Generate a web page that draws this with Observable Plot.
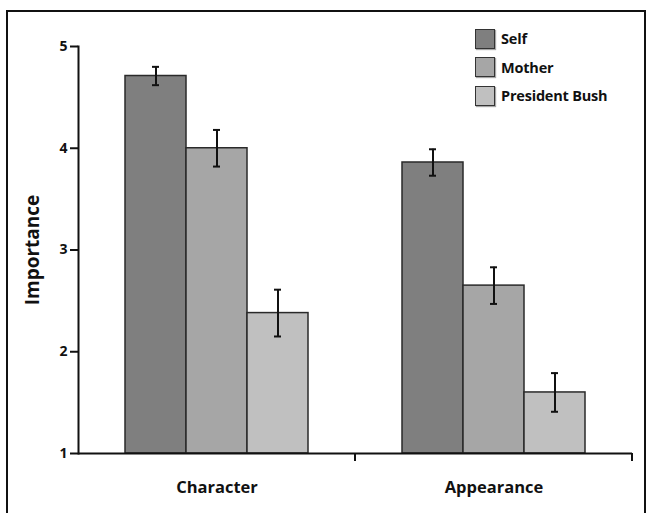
<!DOCTYPE html>
<html>
<head>
<meta charset="utf-8">
<script src="https://cdn.jsdelivr.net/npm/d3@7"></script>
<script src="https://cdn.jsdelivr.net/npm/@observablehq/plot@0.6"></script>
<style>
  html, body { margin: 0; padding: 0; background: #fff; }
  #wrap { position: relative; width: 648px; height: 513px; overflow: hidden; background: #fff; font-family: "Open Sans", sans-serif; }
  #chart { position: absolute; left: 0; top: 0; }
  #frame { position: absolute; left: 6px; top: 10px; width: 636px; height: 560px; border: 2.5px solid #111; pointer-events: none; }
  #legend { position: absolute; left: 475px; top: 28px; }
  .item { display: flex; align-items: center; height: 21px; margin-bottom: 7.5px; }
  .sw { width: 18px; height: 18px; border: 1.5px solid #333; box-shadow: 1px 1px 1px rgba(0,0,0,0.35); margin-right: 6px; }
  .lab { font-weight: bold; font-size: 14.5px; color: #111; letter-spacing: -0.2px; }
  svg [aria-label="y-axis label"] { font-size: 19px; }
</style>
</head>
<body>
<div id="wrap">
  <div id="chart"></div>
  <div id="legend"></div>
  <div id="frame"></div>
</div>
<script>
const categories = ["Character", "Appearance"];
const series = ["Self", "Mother", "President Bush"];
const characterMeans = [4.71, 4.00, 2.38];
const characterErrors = [0.09, 0.18, 0.23];
const appearanceMeans = [3.86, 2.65, 1.60];
const appearanceErrors = [0.13, 0.18, 0.19];
const yTicks = [1, 2, 3, 4, 5];
const yMin = 1, yMax = 5;
const colors = ["#7f7f7f", "#a6a6a6", "#c0c0c0"];

const meansBy = {Character: characterMeans, Appearance: appearanceMeans};
const errorsBy = {Character: characterErrors, Appearance: appearanceErrors};
const data = categories.flatMap(c => series.map((s, i) => ({
  category: c, series: s, value: meansBy[c][i],
  lo: meansBy[c][i] - errorsBy[c][i], hi: meansBy[c][i] + errorsBy[c][i]
})));

const plot = Plot.plot({
  width: 648,
  height: 513,
  marginLeft: 77,
  marginRight: 16,
  marginTop: 46,
  marginBottom: 60,
  style: {fontFamily: "'Open Sans', sans-serif", background: "transparent", color: "#111"},
  fx: {domain: categories, padding: 0, label: null},
  x: {domain: series, paddingInner: 0, paddingOuter: 0.745, axis: null},
  y: {domain: [yMin, yMax], axis: null},
  color: {domain: series, range: colors},
  marks: [
    Plot.barY(data, {fx: "category", x: "series", y1: () => yMin, y2: "value", fill: "series", stroke: "#2a2a2a", strokeWidth: 1.5}),
    Plot.ruleX(data, {fx: "category", x: "series", y1: "lo", y2: "hi", stroke: "#111", strokeWidth: 2}),
    Plot.tickY(data, {fx: "category", x: "series", y: "lo", stroke: "#111", strokeWidth: 2, insetLeft: 27, insetRight: 27}),
    Plot.tickY(data, {fx: "category", x: "series", y: "hi", stroke: "#111", strokeWidth: 2, insetLeft: 27, insetRight: 27}),
    Plot.ruleY([yMin], {stroke: "#111", strokeWidth: 2}),
    Plot.axisY(yTicks, {tickSize: 8, tickPadding: 3, fontSize: 14, fontWeight: "bold", strokeWidth: 2, tickFormat: d3.format("d"), label: "Importance", labelArrow: "none", labelAnchor: "center", labelOffset: 53}),
    Plot.frame({anchor: "left", facetAnchor: "left", stroke: "#111", strokeWidth: 2}),
    Plot.axisFx({anchor: "bottom", tickSize: 0, tickPadding: 28, fontSize: 16.5, fontWeight: "bold", label: null})
  ]
});
document.getElementById("chart").appendChild(plot);

// category boundary ticks on the x axis, placed with Plot's own fx and y scales
const fx = plot.scale("fx"), ys = plot.scale("y");
const svg = d3.select(plot.tagName.toLowerCase() === "svg" ? plot : plot.querySelector("svg"));
const y0 = ys.apply(yMin);
categories.forEach(c => {
  const xr = fx.apply(c) + fx.bandwidth;
  svg.append("line").attr("x1", xr).attr("x2", xr).attr("y1", y0).attr("y2", y0 + 8)
    .attr("stroke", "#111").attr("stroke-width", 2);
});

// legend
const legend = d3.select("#legend");
series.forEach((s, i) => {
  const it = legend.append("div").attr("class", "item");
  it.append("div").attr("class", "sw").style("background", colors[i]);
  it.append("div").attr("class", "lab").text(s);
});
</script>
</body>
</html>
